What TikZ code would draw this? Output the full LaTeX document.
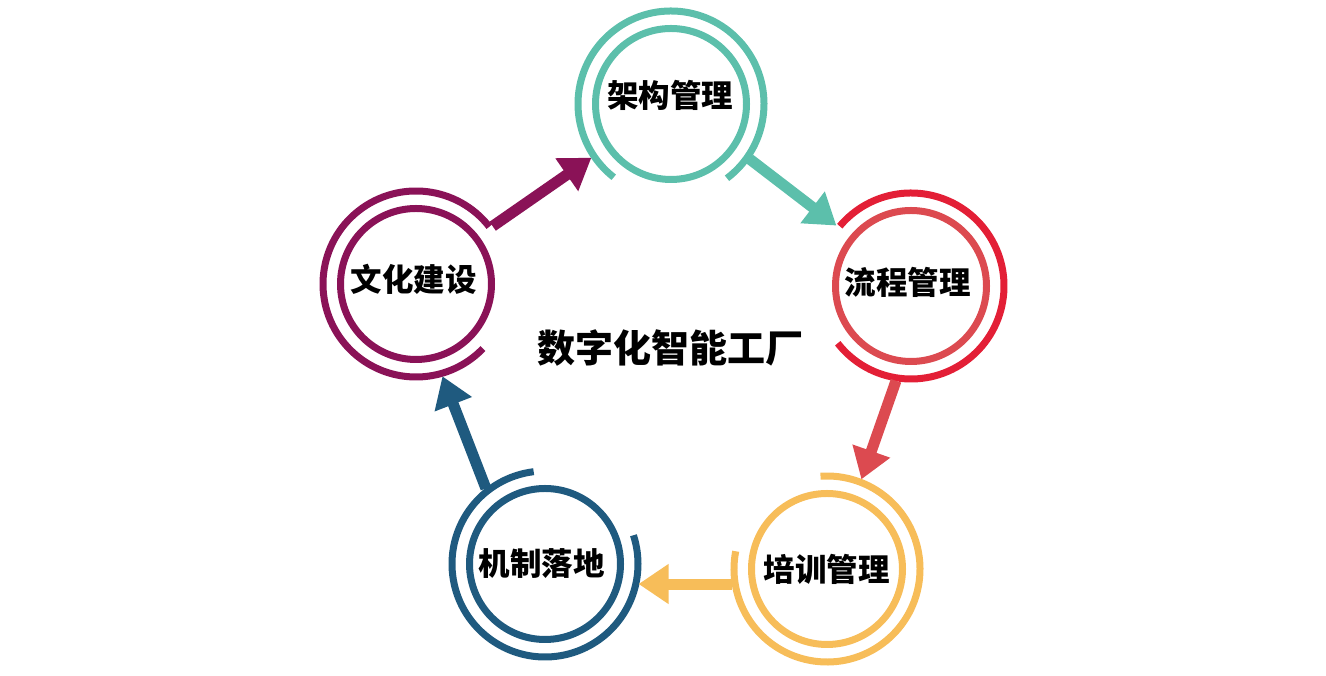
\documentclass[tikz,border=0pt]{standalone}
\usepackage{fontspec}
\newfontfamily\cjk{Noto Sans CJK SC}
\usetikzlibrary{arrows.meta}
\definecolor{cteal}{RGB}{92,191,171}
\definecolor{credo}{RGB}{227,31,54}
\definecolor{credi}{RGB}{220,74,80}
\definecolor{cyel}{RGB}{247,189,89}
\definecolor{cblue}{RGB}{31,90,127}
\definecolor{cpur}{RGB}{138,18,87}
\tikzset{
  hub/.style={circle, minimum size=192pt, inner sep=0pt, outer sep=0pt},
  ringline/.style={line width=7pt},
  lbl/.style={font=\cjk\bfseries\fontsize{31.5}{31.5}\selectfont, inner sep=0pt},
  arr/.style={line width=11pt, line cap=butt, -{Triangle[length=30pt,width=38pt]}}
}
\begin{document}
\begin{tikzpicture}[x=1pt,y=1pt]
\useasboundingbox (0,0) rectangle (1326,676);
% hubs
\node[hub] (c1) at (671,572) {};
\node[hub] (c2) at (911,390) {};
\node[hub] (c3) at (827,107) {};
\node[hub] (c4) at (545,112) {};
\node[hub] (c5) at (416,392) {};
% rings
\draw[ringline,cteal] (c1) circle[radius=75.5];
\draw[ringline,cteal] ([shift={(-53:93)}]c1.center) arc[start angle=-53,end angle=232,radius=93];
\draw[ringline,credi] (c2) circle[radius=75.5];
\draw[ringline,credo] ([shift={(-142:93)}]c2.center) arc[start angle=-142,end angle=140,radius=93];
\draw[ringline,cyel] (c3) circle[radius=75.5];
\draw[ringline,cyel] ([shift={(169:93)}]c3.center) arc[start angle=169,end angle=454,radius=93];
\draw[ringline,cblue] (c4) circle[radius=75.5];
\draw[ringline,cblue] ([shift={(97:93)}]c4.center) arc[start angle=97,end angle=378,radius=93];
\draw[ringline,cpur] (c5) circle[radius=75.5];
\draw[ringline,cpur] ([shift={(38:93)}]c5.center) arc[start angle=38,end angle=316,radius=93];
% labels
\node[lbl] (t1) at (670,581) {架构管理};
\node[lbl] (t2) at (907.5,393.5) {流程管理};
\node[lbl] (t3) at (826.5,107) {培训管理};
\node[lbl] (t4) at (541.5,112) {机制落地};
\node[lbl] (t5) at (413.5,397) {文化建设};
\node[font=\cjk\bfseries\fontsize{38}{38}\selectfont, inner sep=0pt] (title) at (670,328) {数字化智能工厂};
% arrows
\draw[arr,cpur] (c5.37) -- (c1.214);
\draw[arr,cteal] (c1.-35) -- (c2.141);
\draw[arr,credi] (c2.261) -- (c3.69);
\draw[arr,cyel] (c3.189) -- (c3.189 -| c4.-13);
\draw[arr,cblue] (c4.128) -- (c5.-74);
\end{tikzpicture}
\end{document}
